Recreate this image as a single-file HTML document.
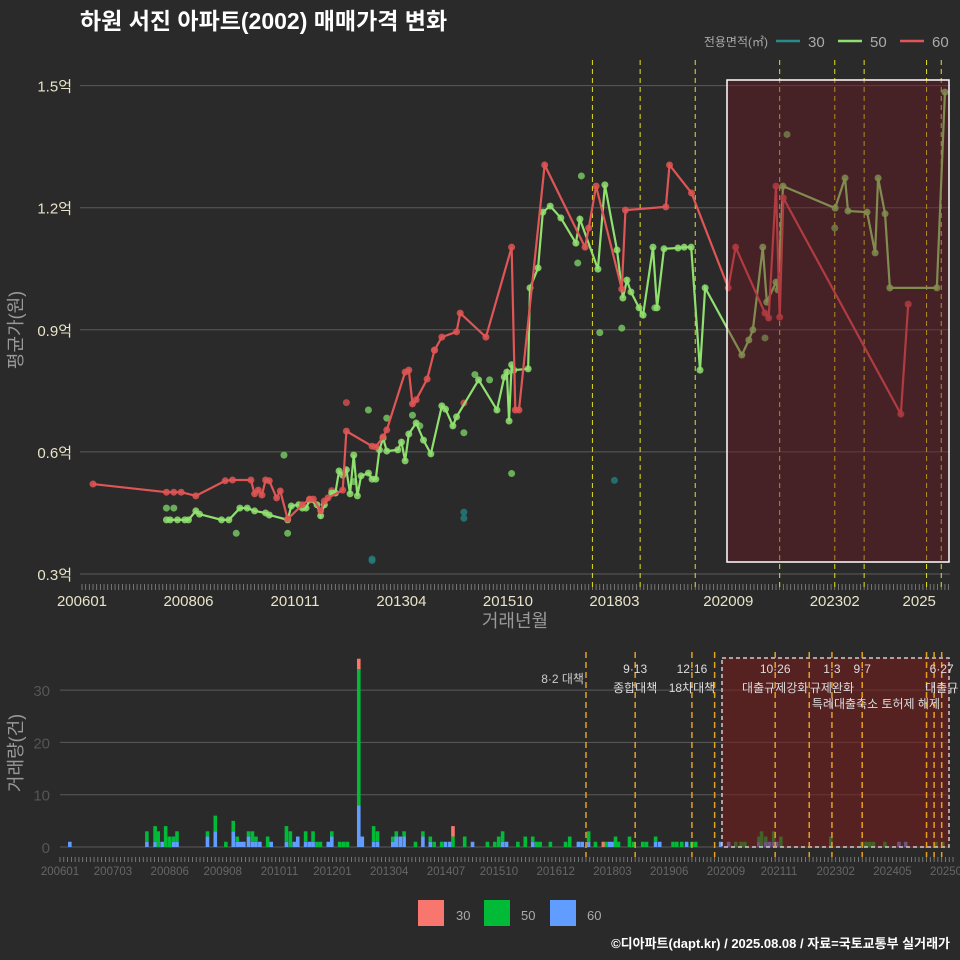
<!DOCTYPE html>
<html><head><meta charset="utf-8"><style>
html,body{margin:0;padding:0;background:#2a2a2a;}
svg{display:block;font-family:"Liberation Sans","Noto Sans CJK KR",sans-serif;}
</style></head><body>
<svg id="c" width="960" height="960" viewBox="0 0 960 960">
<rect width="960" height="960" fill="#2a2a2a"/>
<text x="80" y="29" fill="#fff" font-size="23" font-weight="bold">하원 서진 아파트(2002) 매매가격 변화</text>
<g>
<text x="768" y="46" fill="#aaa" font-size="12" text-anchor="end">전용면적(㎡)</text>
<line x1="776" y1="41" x2="800" y2="41" stroke="#2a8a8a" stroke-width="2.5"/><text x="808" y="47" fill="#aaa" font-size="15">30</text>
<line x1="838" y1="41" x2="862" y2="41" stroke="#90e070" stroke-width="2.5"/><text x="870" y="47" fill="#aaa" font-size="15">50</text>
<line x1="900" y1="41" x2="924" y2="41" stroke="#e05555" stroke-width="2.5"/><text x="932" y="47" fill="#aaa" font-size="15">60</text>
</g>
<g id="topPanel"></g>
<g id="botPanel"></g>
<g>
<rect x="418" y="900" width="26" height="26" fill="#f8766d"/><text x="456" y="920" fill="#aaa" font-size="13">30</text>
<rect x="484" y="900" width="26" height="26" fill="#00ba38"/><text x="521" y="920" fill="#aaa" font-size="13">50</text>
<rect x="550" y="900" width="26" height="26" fill="#619cff"/><text x="587" y="920" fill="#aaa" font-size="13">60</text>
</g>
<text x="950" y="948" fill="#fff" font-size="13" font-weight="bold" text-anchor="end">©디아파트(dapt.kr) / 2025.08.08 / 자료=국토교통부 실거래가</text>
</svg>
<script>
// months since 2006-01
const m60=[3,23,25,27,31,39,41,46,47,48,49,50,51,53,54,56,60,62,63,65,66,67,71,72,79,80,82,83,88,89,90,91,94,96,98,102,103,110,117,118,119,126,137,138,140,147,148,159,160,166,176,178,186,187,189,190,191,223,225];
const v60=[0.521,0.501,0.501,0.501,0.492,0.529,0.531,0.531,0.497,0.506,0.494,0.531,0.529,0.487,0.504,0.435,0.470,0.484,0.484,0.455,0.479,0.487,0.506,0.651,0.614,0.612,0.637,0.654,0.796,0.801,0.718,0.728,0.779,0.850,0.882,0.895,0.941,0.882,1.103,0.703,0.703,1.305,1.103,1.150,1.253,1.000,1.194,1.202,1.305,1.236,1.003,1.103,0.941,0.929,1.253,0.931,1.224,0.693,0.963];
const m50=[23,24,26,28,29,31,32,38,40,43,45,47,50,51,56,57,59,60,61,62,64,65,66,68,69,70,71,72,73,74,75,76,78,79,80,81,82,83,86,87,88,89,91,93,95,98,99,101,102,108,113,115,115.7,116.3,117,117.6,121.5,122,124.2,125.5,127.5,130.4,134.5,135.6,140.5,142.4,145.7,147.3,148.4,149.5,151.7,152.8,155.5,156.6,158.5,162.3,164,165.9,168.3,169.7,179.7,181.6,182.7,185.4,186.5,189,189.5,190.9,205.1,207.8,208.6,213.8,216,216.8,218.7,220,232.8,235];
const v50=[0.433,0.433,0.433,0.433,0.433,0.455,0.447,0.433,0.433,0.462,0.462,0.455,0.450,0.445,0.433,0.467,0.470,0.462,0.462,0.482,0.470,0.443,0.470,0.499,0.499,0.553,0.543,0.556,0.497,0.592,0.492,0.541,0.548,0.533,0.533,0.605,0.634,0.602,0.605,0.624,0.578,0.644,0.671,0.629,0.595,0.713,0.705,0.664,0.686,0.777,0.703,0.784,0.796,0.676,0.814,0.801,0.804,1.003,1.052,1.189,1.204,1.175,1.113,1.172,1.049,1.256,1.096,0.978,1.022,0.993,0.954,0.936,1.103,0.954,1.099,1.101,1.103,1.103,0.801,1.003,0.838,0.875,0.900,1.103,0.968,1.017,0.998,1.253,1.199,1.273,1.192,1.189,1.089,1.273,1.185,1.003,1.003,1.484];
const sm50=[23,25,55,42,117,111,107,92,104,78,83,90,136,135,141,147,156,186,205,192,74,56];
const sv50=[0.462,0.462,0.592,0.400,0.547,0.777,0.790,0.664,0.647,0.703,0.683,0.690,1.278,1.064,0.893,0.904,0.954,0.880,1.150,1.380,0.527,0.400];
const sm60=[72,68,96,104];
const sv60=[0.721,0.505,0.850,0.720];
const sm30=[79,79,104,104,145];
const sv30=[0.337,0.333,0.452,0.437,0.530];
const yTicks=[0.3,0.6,0.9,1.2,1.5];
const yTickLabels=["0.3억","0.6억","0.9억","1.2억","1.5억"];
const xTickMonths=[0,29,58,87,116,145,176,205,228];
const xTickLabels=["200601","200806","201011","201304","201510","201803","202009","202302","2025"];
const policyTop=[139,152,167,190,205,213,230,234];
const bm=[2.6,22.96,25.13,25.96,27,27.92,28.95,29.99,30.92,38.97,41.04,43.83,45.79,46.83,47.76,48.58,49.82,50.86,51.79,52.82,54.88,55.81,59.84,60.88,61.91,62.84,64.91,65.94,66.87,67.9,68.83,70.9,71.83,73.9,74.93,75.96,78.96,79.89,82.88,83.92,87.94,88.87,89.91,90.94,93.94,95.9,97.86,98.89,100.86,101.89,103.03,103.85,106.95,109.02,112.95,114.91,115.94,116.97,118,121,122.96,124.93,125.96,126.9,129.6,133.6,134.7,137,138,139.7,141.5,143.6,144.4,145.3,146.2,146.8,147.6,150.5,151.6,154,155,157.4,158.5,162,163,164.3,165.6,167,168,174.6,176.7,178.6,180,181,184.7,185.4,186.5,187.5,188.6,189.4,190.5,203.7,212,213,214,215,218,221.7,223.5,231.5,233.3];
const b60=[1,1,1,0,1,0,0,1,1,2,3,0,3,1,1,1,2,1,1,1,0,1,1,0,1,2,1,1,1,0,0,1,2,0,0,0,8,2,1,1,1,2,2,2,0,2,1,0,0,1,1,0,0,1,0,0,0,1,1,0,0,1,0,0,0,0,0,1,1,1,0,0,0,1,1,0,0,0,0,0,0,1,1,0,0,0,1,0,0,1,1,0,0,0,1,0,1,1,1,1,0,0,0,0,0,0,0,1,1,0,0];
const b50=[0,2,3,3,0,4,2,1,2,1,3,1,2,1,0,0,1,2,1,0,2,0,3,3,0,0,2,0,2,1,1,0,1,1,1,1,26,0,3,2,1,1,0,1,1,1,1,1,1,0,0,2,2,0,1,1,2,2,0,1,2,1,1,1,1,1,2,0,0,2,1,0,1,0,0,2,1,2,1,1,1,1,0,1,1,1,0,1,1,0,0,1,1,1,1,3,1,0,2,0,2,2,1,1,1,1,1,0,0,1,1];
const b30=[0,0,0,0,0,0,0,0,0,0,0,0,0,0,0,0,0,0,0,0,0,0,0,0,0,0,0,0,0,0,0,0,0,0,0,0,2,0,0,0,0,0,0,0,0,0,0,0,0,0,0,2,0,0,0,0,0,0,0,0,0,0,0,0,0,0,0,0,0,0,0,1,0,0,0,0,0,0,0,0,0,0,0,0,0,0,0,0,0,0,0,0,0,0,0,0,0,0,0,0,0,0,0,0,0,0,0,0,0,0,0];
const bTicks=[0,10,20,30];
const bxTickMonths=[0,14,29,43,58,72,87,102,116,131,146,161,176,190,205,220,235];
const bxTickLabels=["200601","200703","200806","200908","201011","201201","201304","201407","201510","201612","201803","201906","202009","202111","202302","202405","202508"];
const policyBot=[139,152,167,173,189,198,204,212,229,231,233];
const policyNames=[["8·2 대책",""],["9·13","종합대책"],["12·16","18차대책"],["",""],["10·26","대출규제강화"],["",""],["1·3","규제완화"],["9·7",""],["",""],["",""],["6·27","대출규"]];

const NS="http://www.w3.org/2000/svg";
function mk(p,t,a){const e=document.createElementNS(NS,t);for(const k in a)e.setAttribute(k,a[k]);p.appendChild(e);return e;}
const X=m=>82+m*3.672, Y=v=>574-(v-0.3)*407;
const BX=m=>60+m*3.784, BY=c=>847-c*5.23;
const topG=document.getElementById('topPanel'), botG=document.getElementById('botPanel');

yTicks.forEach((t,i)=>{
  const g=mk(topG,'line',{x1:80,x2:950,y1:Y(t),y2:Y(t),stroke:'#5a5a5a','stroke-width':1});
  
  
  const l=mk(topG,'text',{x:72,y:Y(t)+6,fill:'#e8e4c8','font-size':15,'text-anchor':'end'});l.textContent=yTickLabels[i];
  
  
});
for(let m=0;m<=236;m++){mk(topG,'line',{x1:X(m),x2:X(m),y1:584,y2:590,stroke:'#888','stroke-width':0.8});}
xTickMonths.forEach((m,i)=>{
  const l=mk(topG,'text',{x:X(m),y:606,fill:'#e8e4c8','font-size':15,'text-anchor':'middle'});l.textContent=xTickLabels[i];
  
  
});
let t=mk(topG,'text',{x:515,y:627,fill:'#999','font-size':18,'text-anchor':'middle'});t.textContent='거래년월';


t=mk(topG,'text',{x:0,y:0,fill:'#999','font-size':18,'text-anchor':'middle',transform:'translate(22,330) rotate(-90)'});t.textContent='평균가(원)';


policyTop.forEach(m=>{const l=mk(topG,'line',{x1:X(m),x2:X(m),y1:60,y2:590,stroke:'#e6e020','stroke-width':1,'stroke-dasharray':'5,4'});
  
  });
function series(ms,vs,col,name){
  const p=mk(topG,'polyline',{points:ms.map((m,i)=>X(m)+','+Y(vs[i])).join(' '),fill:'none',stroke:col,'stroke-width':2.2});
  
  
  ms.forEach((m,i)=>{const c=mk(topG,'circle',{cx:X(m),cy:Y(vs[i]),r:3.5,fill:col,opacity:0.85});
    
    });
}
function scat(ms,vs,col,name){ms.forEach((m,i)=>{const c=mk(topG,'circle',{cx:X(m),cy:Y(vs[i]),r:3.5,fill:col,opacity:0.8});
  
  });}
scat(sm50,sv50,'#7ccf66','area-50');scat(sm60,sv60,'#d85050','area-60');scat(sm30,sv30,'#22807f','area-30');
series(m50,v50,'#90e070','area-50');series(m60,v60,'#e05555','area-60');
let r=mk(topG,'rect',{x:727,y:80,width:222,height:482,fill:'rgba(110,25,35,0.42)',stroke:'#fff','stroke-width':1.5});



bTicks.forEach(c=>{
  mk(botG,'line',{x1:60,x2:950,y1:BY(c),y2:BY(c),stroke:'#5a5a5a','stroke-width':1});
  const l=mk(botG,'text',{x:50,y:BY(c)+6,fill:'#555','font-size':15,'text-anchor':'end'});l.textContent=c;
  
  
});
for(let m=0;m<=236;m++){mk(botG,'line',{x1:BX(m),x2:BX(m),y1:857,y2:862,stroke:'#888','stroke-width':0.8});}
bxTickMonths.forEach((m,i)=>{const l=mk(botG,'text',{x:BX(m),y:875,fill:'#666','font-size':11.5,'text-anchor':'middle'});l.textContent=bxTickLabels[i];
  
  });
t=mk(botG,'text',{x:0,y:0,fill:'#999','font-size':18,'text-anchor':'middle',transform:'translate(22,753) rotate(-90)'});t.textContent='거래량(건)';


bm.forEach((m,i)=>{
  const x=BX(m)-1.8;let base=0;
  [[b60[i],'#619cff','bar-60'],[b50[i],'#00ba38','bar-50'],[b30[i],'#f8766d','bar-30']].forEach(s=>{
    if(s[0]>0){const b=mk(botG,'rect',{x:x,y:BY(base+s[0]),width:3.6,height:s[0]*5.23,fill:s[1]});
      
      
      base+=s[0];}
  });
});
r=mk(botG,'rect',{x:722,y:658,width:227,height:189,fill:'rgba(120,25,25,0.55)',stroke:'#ccc','stroke-width':1.5,'stroke-dasharray':'4,3'});


policyBot.forEach((m,i)=>{
  const l=mk(botG,'line',{x1:BX(m),x2:BX(m),y1:652,y2:857,stroke:'#e6a020','stroke-width':1.5,'stroke-dasharray':'6,4'});
  
  
  const n=policyNames[i];
  if(i===0){const a=mk(botG,'text',{x:BX(m)-2,y:683,fill:'#ccc','font-size':12,'text-anchor':'end'});a.textContent=n[0];
    
    return;}
  if(n[0]){const a=mk(botG,'text',{x:BX(m),y:673,fill:'#ddd','font-size':12,'text-anchor':'middle'});a.textContent=n[0];
    
    }
  if(n[1]){const a=mk(botG,'text',{x:BX(m),y:692,fill:'#ddd','font-size':12,'text-anchor':'middle'});a.textContent=n[1];
    
    }
});
t=mk(botG,'text',{x:940,y:708,fill:'#ddd','font-size':12,'text-anchor':'end'});t.textContent='특례대출축소 토허제 해제';


</script>
</body></html>
